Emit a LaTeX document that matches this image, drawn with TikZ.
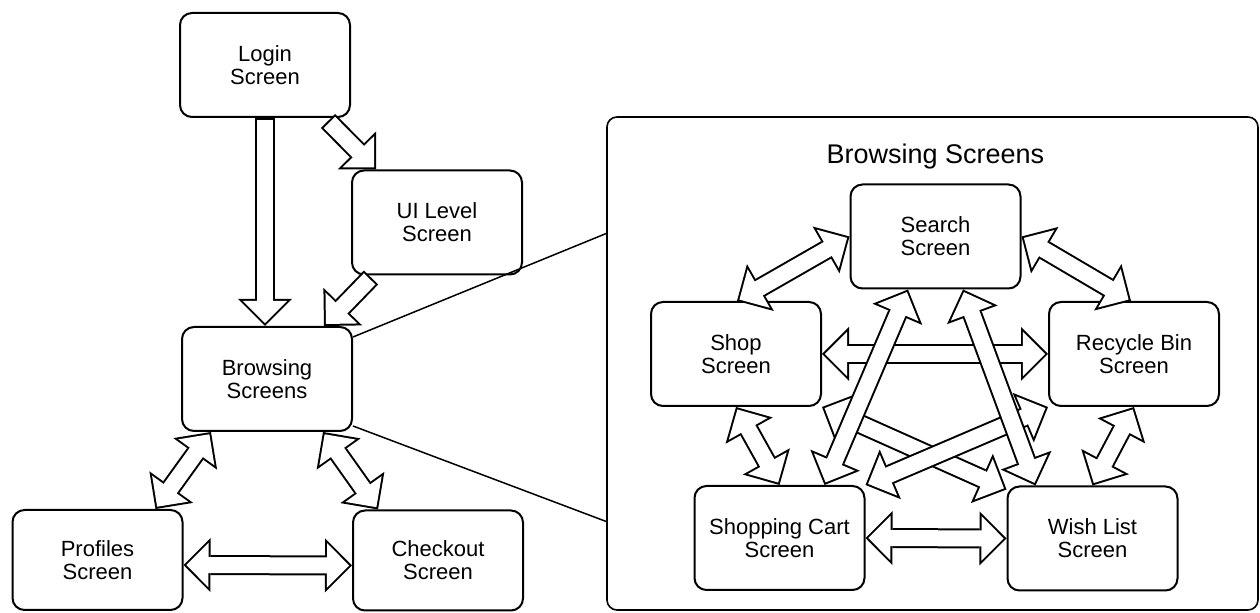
\documentclass[tikz,border=0pt]{standalone}
\usepackage{fontspec}
\setmainfont{Liberation Sans}
\usetikzlibrary{arrows.meta}

\newcommand{\onearrow}[2]{%
  \draw[oneout] #1 -- #2;
  \draw[onein] #1 -- #2;}
\newcommand{\twoarrow}[2]{%
  \draw[twoout] #1 -- #2;
  \draw[twoin] #1 -- #2;}

\begin{document}
\begin{tikzpicture}[x=0.5pt,y=-0.5pt,
  screen/.style={draw, line width=1pt, rounded corners=6pt, minimum width=85pt, minimum height=52pt, inner sep=0pt, align=center, font=\fontsize{11}{11.5}\selectfont},
  oneout/.style={line width=10pt, -{Triangle[length=13.5pt,width=27pt,line width=0pt]}},
  onein/.style={white, line width=8pt, line cap=rect, shorten <=5pt, shorten >=1.41pt, -{Triangle[length=11.1pt,width=22.2pt,line width=0pt]}},
  twoout/.style={line width=10pt, {Triangle[length=13.5pt,width=27pt,line width=0pt]}-{Triangle[length=13.5pt,width=27pt,line width=0pt]}},
  twoin/.style={white, line width=8pt, line cap=rect, shorten <=1.41pt, shorten >=1.41pt, {Triangle[length=11.1pt,width=22.2pt,line width=0pt]}-{Triangle[length=11.1pt,width=22.2pt,line width=0pt]}},
  zoomline/.style={line width=0.75pt}]
\useasboundingbox (0,0) rectangle (1260,613);

% overview
\node[screen] (login) at (265,65) {Login\\Screen};
\node[screen] (uilevel) at (437,222.5) {UI Level\\Screen};
\node[screen] (browse) at (267,379) {Browsing\\Screens};
\node[screen, minimum height=50pt] (profiles) at (97.5,560) {Profiles\\Screen};
\node[screen, minimum height=50pt] (checkout) at (438,560.5) {Checkout\\Screen};

% browsing screens in detail
\node[draw, line width=0.8pt, rounded corners=5pt, minimum width=325.5pt, minimum height=246.5pt] (frame) at (932.5,363.5) {};
\node[font=\fontsize{13.5}{15}\selectfont] (title) at (935.5,157) {Browsing Screens};
\node[screen] (search) at (935.5,236.5) {Search\\Screen};
\node[screen] (shop) at (736,354) {Shop\\Screen};
\node[screen] (recycle) at (1134,354) {Recycle Bin\\Screen};
\node[screen] (cart) at (779.5,538) {Shopping Cart\\Screen};
\node[screen] (wish) at (1092.5,538.5) {Wish List\\Screen};

\draw[zoomline] ([yshift=-5.5pt]browse.north east) -- ([yshift=65pt]frame.west);
\draw[zoomline] ([yshift=3pt]browse.south east) -- ([yshift=-79pt]frame.west);

\onearrow{(login.south)}{(login.south |- browse.north)}
\onearrow{([xshift=-11.5pt,yshift=-1.5pt]login.south east)}{([xshift=12.5pt]uilevel.north west)}
\onearrow{([xshift=10pt,yshift=-1pt]uilevel.south west)}{([xshift=-14.5pt]browse.north east)}
\twoarrow{([xshift=15pt]browse.south west)}{([xshift=-14pt]profiles.north east)}
\twoarrow{([xshift=-15pt]browse.south east)}{([xshift=13pt]checkout.north west)}
\twoarrow{([yshift=-2.5pt]profiles.east)}{([yshift=-2.5pt]checkout.west)}

\twoarrow{(shop.east)}{(recycle.west)}
\twoarrow{(cart.east)}{(wish.west)}
\twoarrow{(shop.south east)}{([yshift=-2pt]wish.north west)}
\twoarrow{(recycle.south west)}{(cart.north east)}
\twoarrow{([xshift=-13.75pt]search.south)}{([xshift=-20.5pt]cart.north east)}
\twoarrow{([xshift=13.75pt]search.south)}{([xshift=14.5pt]wish.north west)}
\twoarrow{([xshift=43.5pt]shop.north west)}{(search.west)}
\twoarrow{(search.east)}{([xshift=41.5pt]recycle.north west)}
\twoarrow{(shop.south)}{(cart.north)}
\twoarrow{(recycle.south)}{(wish.north)}
\end{tikzpicture}
\end{document}
